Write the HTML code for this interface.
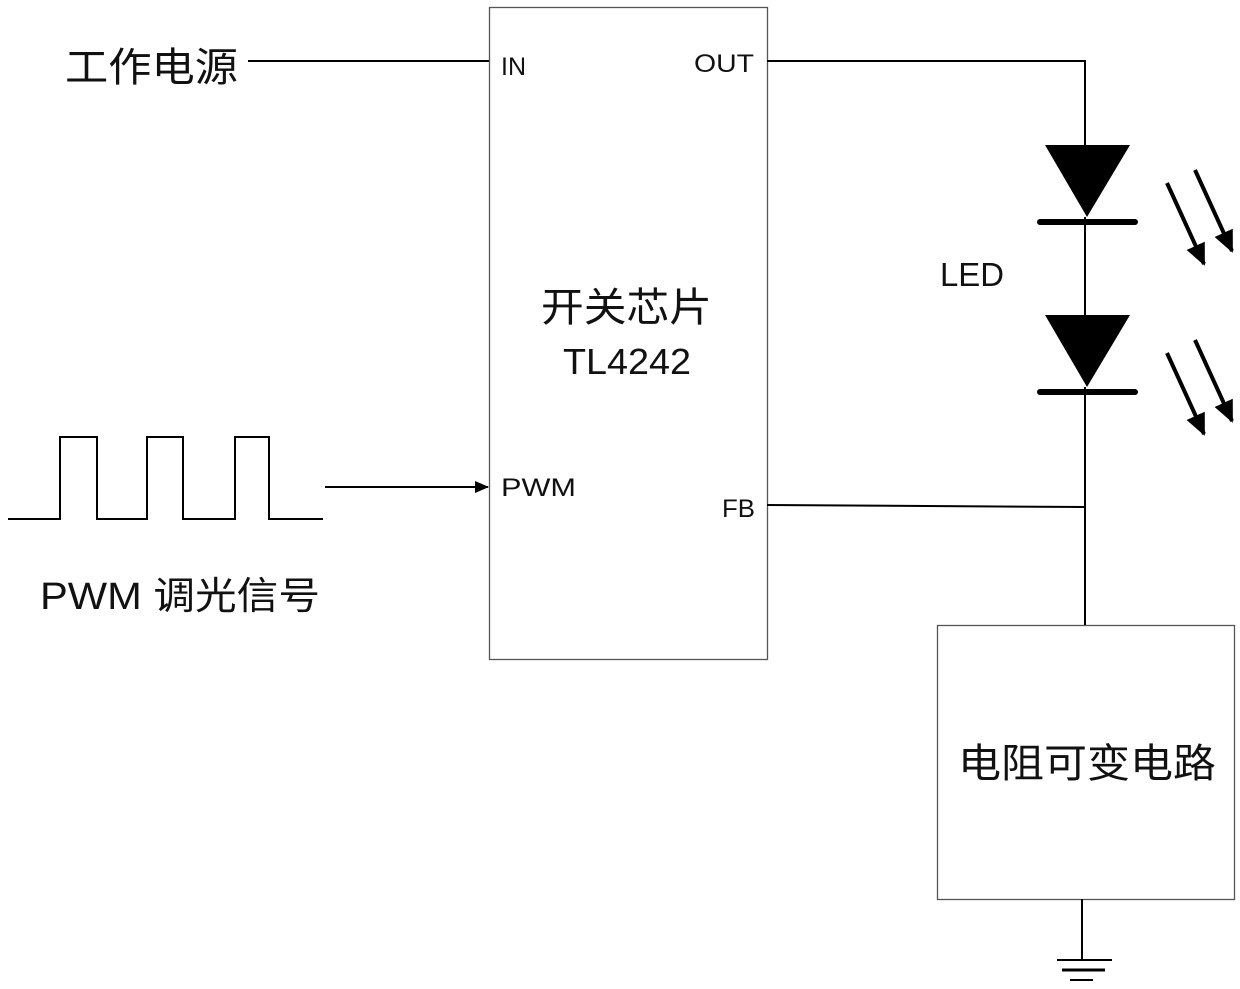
<!DOCTYPE html>
<html><head><meta charset="utf-8"><style>
html,body{margin:0;padding:0;background:#fff;}
svg{display:block;}
text{font-family:"Liberation Sans","Noto Sans CJK SC",sans-serif;fill:#111;}
</style></head><body>
<svg width="1240" height="989" viewBox="0 0 1240 989" xmlns="http://www.w3.org/2000/svg">
<defs><marker id="ah" markerWidth="14" markerHeight="12" refX="13" refY="6" orient="auto" markerUnits="userSpaceOnUse"><path d="M0,0 L14,6 L0,12 z" fill="#000"/></marker>
<marker id="ah2" markerWidth="22" markerHeight="20" refX="20" refY="10" orient="auto" markerUnits="userSpaceOnUse"><path d="M0,0 L22,10 L0,20 z" fill="#000"/></marker></defs>
<g fill="none" stroke="#000" stroke-width="2">
<rect x="489.5" y="7.5" width="278" height="652" stroke="#555" stroke-width="1.3"/>
<rect x="937.5" y="625.5" width="297" height="274" stroke="#555" stroke-width="1.3"/>
<line x1="248" y1="61" x2="489" y2="61"/>
<polyline points="767,61 1085,61 1085,145"/>
<line x1="1085" y1="217" x2="1085" y2="318"/>
<line x1="1085" y1="387" x2="1085" y2="625"/>
<line x1="767" y1="505" x2="1085" y2="507"/>
<polyline points="8,519 60,519 60,437 97,437 97,519 147,519 147,437 183,437 183,519 235,519 235,437 269,437 269,519 323,519"/>
<line x1="325" y1="487" x2="488" y2="487" marker-end="url(#ah)"/>
<line x1="1082" y1="899" x2="1082" y2="960"/>
<line x1="1057" y1="960" x2="1112" y2="960"/>
<line x1="1062" y1="970" x2="1105" y2="970" stroke-width="3"/>
<line x1="1070" y1="980" x2="1093" y2="980"/>
<line x1="1040" y1="222" x2="1135" y2="222" stroke-width="6" stroke-linecap="round"/>
<line x1="1040" y1="392" x2="1135" y2="392" stroke-width="6" stroke-linecap="round"/>
<g stroke-width="4">
<line x1="1167" y1="183" x2="1204" y2="264" marker-end="url(#ah2)"/>
<line x1="1195" y1="170" x2="1232" y2="251" marker-end="url(#ah2)"/>
<line x1="1167" y1="353" x2="1204" y2="434" marker-end="url(#ah2)"/>
<line x1="1195" y1="340" x2="1232" y2="421" marker-end="url(#ah2)"/>
</g>
</g>
<polygon points="1045,145 1130,145 1087,217" fill="#000"/>
<polygon points="1045,315 1130,315 1087,387" fill="#000"/>
<text x="65" y="81" font-size="40" textLength="173" lengthAdjust="spacingAndGlyphs">工作电源</text>
<text x="501" y="75" font-size="25">IN</text>
<text x="694" y="72" font-size="25" textLength="60" lengthAdjust="spacingAndGlyphs">OUT</text>
<text x="541" y="321" font-size="40" textLength="171" lengthAdjust="spacingAndGlyphs">开关芯片</text>
<text x="563" y="374" font-size="36" textLength="128" lengthAdjust="spacingAndGlyphs">TL4242</text>
<text x="940" y="286" font-size="33" textLength="64" lengthAdjust="spacingAndGlyphs">LED</text>
<text x="501" y="496" font-size="25" textLength="75" lengthAdjust="spacingAndGlyphs">PWM</text>
<text x="722" y="517" font-size="25" textLength="33" lengthAdjust="spacingAndGlyphs">FB</text>
<text x="40" y="609" font-size="38" textLength="280" lengthAdjust="spacingAndGlyphs">PWM 调光信号</text>
<text x="958" y="777" font-size="40" textLength="258" lengthAdjust="spacingAndGlyphs">电阻可变电路</text>
</svg>
</body></html>
